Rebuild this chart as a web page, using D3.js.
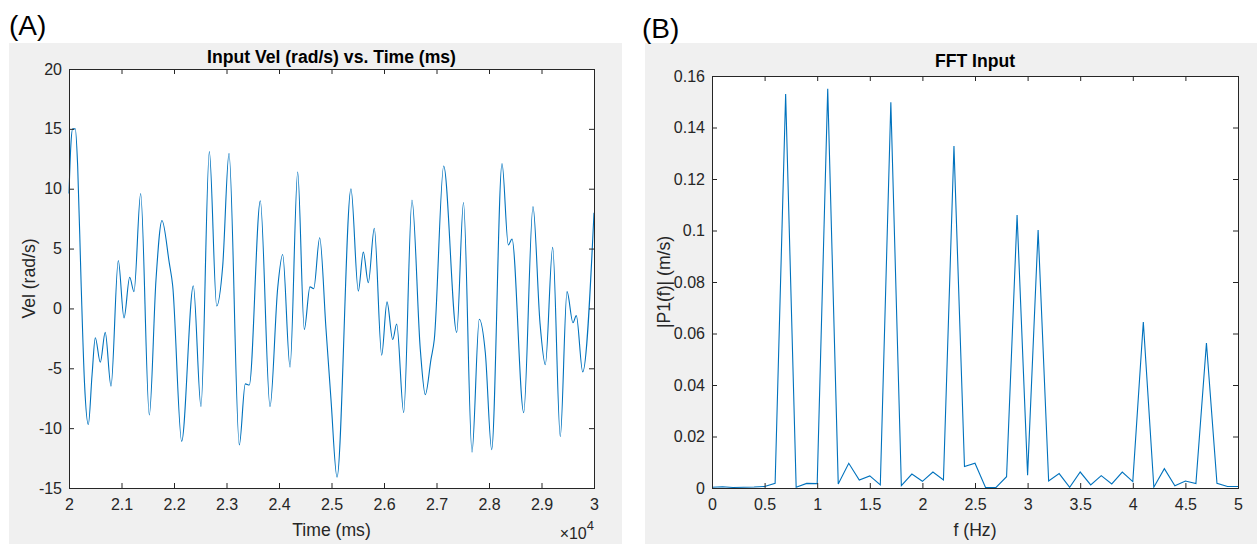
<!DOCTYPE html>
<html>
<head>
<meta charset="utf-8">
<script src="https://cdn.jsdelivr.net/npm/d3@7"></script>
<style>
  body { margin: 0; background: #fff; }
  svg { display: block; font-family: "Liberation Sans", Arial, Helvetica, sans-serif; }
  .tick text { fill: #262626; font-size: 16px; }
  .tick line { stroke: #262626; }
</style>
</head>
<body>
<svg width="1257" height="544"></svg>
<script>
"use strict";

// panel A: input velocity (extrema + shoulders)
var timeMs = [20000, 20035, 20070, 20120, 20165, 20230, 20295, 20368, 20440, 20501,
  20596, 20690, 20800, 20939, 21048, 21156, 21238, 21365, 21530, 21657,
  21771, 21910, 21975, 22146, 22368, 22514, 22673, 22813, 22927, 23048,
  23244, 23358, 23434, 23644, 23829, 23975, 24070, 24210, 24356, 24482,
  24590, 24661, 24775, 24895, 24990, 25105, 25371, 25511, 25606, 25701,
  25815, 25956, 26057, 26166, 26242, 26375, 26533, 26691, 26787, 26895,
  26958, 27137, 27385, 27514, 27676, 27815, 27930, 28051, 28248, 28368,
  28438, 28661, 28838, 28971, 29073, 29213, 29358, 29486, 29600, 29663,
  29785, 30000];
var velocity = [9.6, 13.6, 15.0, 15.0, 11.9, 2.2, -6.2, -9.7, -5.5, -2.45,
  -4.5, -2.0, -6.5, 4.0, -0.8, 2.6, 1.4, 9.6, -8.9, 2.4,
  7.35, 3.8, 1.9, -11.1, 1.9, -8.2, 13.1, 0.2, 3.5, 12.95,
  -11.4, -6.3, -6.4, 9.0, -8.2, 1.7, 4.5, -4.9, 11.4, -1.75,
  1.8, 1.65, 5.9, -1.7, -7.6, -14.1, 10.0, 1.45, 4.7, 2.15,
  6.7, -3.9, 0.55, -2.6, -1.3, -8.7, 9.05, -3.4, -7.2, -4.25,
  -2.6, 11.9, -2.0, 8.85, -12.0, -0.9, -3.7, -11.8, 12.1, 5.3,
  5.8, -8.7, 8.5, -1.2, -4.7, 5.1, -10.7, 1.4, -1.2, -0.6,
  -5.3, 8.0];

// panel B: single-sided spectrum, 0..5 Hz every 0.1 Hz
var freqHz = d3.range(51).map(i => i / 10);
var p1 = [0.0003, 0.0005, 0.0002, 0.0003, 0.0004, 0.0006, 0.0018, 0.153, 0.0003, 0.0018,
  0.0017, 0.155, 0.0016, 0.0096, 0.0031, 0.0047, 0.0012, 0.1498, 0.0009, 0.0054,
  0.0026, 0.0062, 0.0031, 0.1328, 0.0083, 0.0096, 0.0002, 0.0002, 0.0044, 0.106,
  0.005, 0.1002, 0.0027, 0.0056, 0.0003, 0.0062, 0.0012, 0.0048, 0.0016, 0.0062,
  0.0025, 0.0645, 0.0003, 0.0075, 0.0009, 0.0027, 0.0017, 0.0563, 0.0018, 0.0006,
  0.0006];

var timeTicks = d3.range(20000, 30001, 1000),
    velTicks = d3.range(-15, 21, 5),
    freqTicks = d3.range(0, 5.01, 0.5),
    p1Ticks = d3.range(0, 0.161, 0.02);

var svg = d3.select("svg"),
    lineColor = "#0072bd",
    tickLen = 5;

function panel(opt) {
  // grey figure background
  svg.append("rect")
      .attr("x", opt.bg[0]).attr("y", opt.bg[1])
      .attr("width", opt.bg[2]).attr("height", opt.bg[3])
      .attr("fill", "#f0f0f0");

  svg.append("text")
      .attr("x", opt.tag[0]).attr("y", opt.tag[1])
      .attr("font-size", 28)
      .attr("fill", "#000")
      .text(opt.tag[2]);

  var x = opt.x, y = opt.y,
      x0 = x.range()[0], x1 = x.range()[1],
      y0 = y.range()[0], y1 = y.range()[1];

  var g = svg.append("g");

  g.append("rect")
      .attr("x", x0).attr("y", y1)
      .attr("width", x1 - x0).attr("height", y0 - y1)
      .attr("fill", "#fff");

  g.append("path")
      .datum(opt.data)
      .attr("fill", "none")
      .attr("stroke", lineColor)
      .attr("stroke-width", 1.1)
      .attr("d", d3.line()
        .x(d => x(d[0]))
        .y(d => y(d[1]))
        .curve(opt.curve));

  // ticks point inward on all four sides
  g.append("g")
      .attr("transform", "translate(0," + y0 + ")")
      .call(d3.axisBottom(x).tickValues(opt.xTicks).tickFormat(opt.xFmt)
        .tickSizeInner(-tickLen).tickSizeOuter(0).tickPadding(11))
      .call(a => a.select(".domain").remove());
  g.append("g")
      .attr("transform", "translate(0," + y1 + ")")
      .call(d3.axisTop(x).tickValues(opt.xTicks).tickFormat("")
        .tickSizeInner(-tickLen).tickSizeOuter(0))
      .call(a => a.select(".domain").remove());
  g.append("g")
      .attr("transform", "translate(" + x0 + ",0)")
      .call(d3.axisLeft(y).tickValues(opt.yTicks).tickFormat(opt.yFmt)
        .tickSizeInner(-tickLen).tickSizeOuter(0).tickPadding(7))
      .call(a => a.select(".domain").remove());
  g.append("g")
      .attr("transform", "translate(" + x1 + ",0)")
      .call(d3.axisRight(y).tickValues(opt.yTicks).tickFormat("")
        .tickSizeInner(-tickLen).tickSizeOuter(0))
      .call(a => a.select(".domain").remove());
  g.selectAll(".tick text").attr("font-family", null).attr("font-size", null);

  g.append("rect")
      .attr("x", x0 + 0.5).attr("y", y1 + 0.5)
      .attr("width", x1 - x0).attr("height", y0 - y1)
      .attr("fill", "none")
      .attr("stroke", "#262626");

  var cx = (x0 + x1) / 2;
  g.append("text")
      .attr("x", cx).attr("y", opt.titleY)
      .attr("text-anchor", "middle")
      .attr("font-size", 17.6)
      .attr("font-weight", "bold")
      .attr("fill", "#000")
      .text(opt.title);

  g.append("text")
      .attr("x", cx).attr("y", 536)
      .attr("text-anchor", "middle")
      .attr("font-size", 17.6)
      .attr("fill", "#262626")
      .text(opt.xLabel);

  g.append("text")
      .attr("transform", "translate(" + opt.yLabelX + "," + (y0 + y1) / 2 + ") rotate(-90)")
      .attr("text-anchor", "middle")
      .attr("font-size", 17.6)
      .attr("fill", "#262626")
      .text(opt.yLabel);

  return g;
}

var xA = d3.scaleLinear().domain([20000, 30000]).range([69, 594]),
    yA = d3.scaleLinear().domain([-15, 20]).range([488, 69]);

var gA = panel({
  bg: [9, 43, 613, 501],
  tag: [9, 35, "(A)"],
  x: xA, y: yA,
  data: timeMs.map((t, i) => [t, velocity[i]]),
  curve: d3.curveMonotoneX,
  xTicks: timeTicks, xFmt: d => String(+(d / 1e4).toFixed(1)),
  yTicks: velTicks, yFmt: d => String(d),
  title: "Input Vel (rad/s) vs. Time (ms)",
  titleY: 63,
  xLabel: "Time (ms)",
  yLabel: "Vel (rad/s)",
  yLabelX: 35
});

// x10^4 exponent under the right end of the time axis
var expo = gA.append("text")
    .attr("x", 594).attr("y", 539)
    .attr("text-anchor", "end")
    .attr("fill", "#262626")
    .attr("font-size", 16);
expo.append("tspan").text("\u00d710");
expo.append("tspan").attr("dy", -9).attr("font-size", 13).text("4");

var xB = d3.scaleLinear().domain([0, 5]).range([712, 1238]),
    yB = d3.scaleLinear().domain([0, 0.16]).range([488, 76]);

panel({
  bg: [645, 43, 612, 501],
  tag: [642, 38, "(B)"],
  x: xB, y: yB,
  data: freqHz.map((f, i) => [f, p1[i]]),
  curve: d3.curveLinear,
  xTicks: freqTicks, xFmt: d => String(+d.toFixed(1)),
  yTicks: p1Ticks, yFmt: d => String(+d.toFixed(2)),
  title: "FFT Input",
  titleY: 67,
  xLabel: "f (Hz)",
  yLabel: "|P1(f)| (m/s)",
  yLabelX: 670
});
</script>
</body>
</html>
